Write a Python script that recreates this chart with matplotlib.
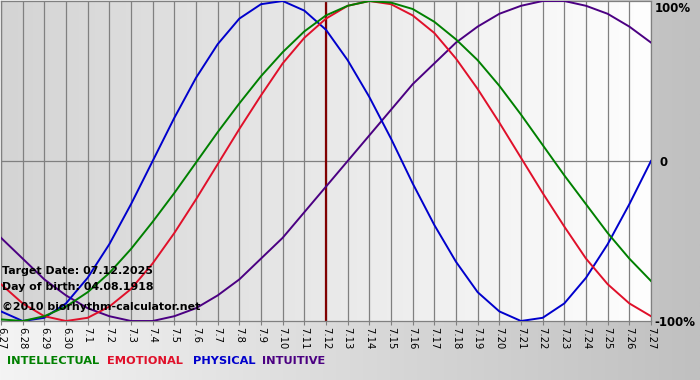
import numpy as np
import matplotlib
matplotlib.use("Agg")
import matplotlib.pyplot as plt

plt.rcParams['font.family'] = ['DejaVu Sans']

# day labels (month.day), 6.27 .. 7.27
day_labels = ['6.27', '6.28', '6.29', '6.30'] + ['7.%d' % d for d in range(1, 28)]
target_label = '7.12'

# values, one per day (-1 .. 1)
physical = [-0.94, -1.00, -0.98, -0.89, -0.73, -0.52, -0.27, 0.00, 0.27, 0.52,
            0.73, 0.89, 0.98, 1.00, 0.94, 0.82, 0.63, 0.40, 0.14, -0.14,
            -0.40, -0.63, -0.82, -0.94, -1.00, -0.98, -0.89, -0.73, -0.52, -0.27,
            0.00]
emotional = [-0.77, -0.89, -0.97, -1.00, -0.98, -0.91, -0.80, -0.64, -0.45, -0.24,
             -0.02, 0.20, 0.41, 0.61, 0.77, 0.89, 0.97, 1.00, 0.98, 0.91,
             0.80, 0.64, 0.45, 0.24, 0.02, -0.20, -0.41, -0.61, -0.77, -0.89,
             -0.97]
intellectual = [-0.99, -1.00, -0.97, -0.91, -0.82, -0.70, -0.55, -0.38, -0.20, -0.01,
                0.18, 0.36, 0.53, 0.68, 0.81, 0.91, 0.97, 1.00, 0.99, 0.95,
                0.87, 0.76, 0.63, 0.47, 0.29, 0.10, -0.09, -0.27, -0.45, -0.61,
                -0.75]
intuitive = [-0.48, -0.61, -0.74, -0.84, -0.92, -0.97, -1.00, -1.00, -0.97, -0.92,
             -0.84, -0.74, -0.61, -0.48, -0.32, -0.16, 0.00, 0.16, 0.32, 0.48,
             0.61, 0.74, 0.84, 0.92, 0.97, 1.00, 1.00, 0.97, 0.92, 0.84,
             0.74]

W, H = 700, 380
fig = plt.figure(figsize=(W / 100, H / 100), dpi=100)

# figure background: light on the left, grey on the right
bg = fig.add_axes([0, 0, 1, 1], zorder=-10)
grad = np.linspace(0, 1, 256).reshape(1, -1)
bg.imshow(grad, aspect='auto', extent=[0, 1, 0, 1],
          cmap=matplotlib.colors.LinearSegmentedColormap.from_list('g', ['#f4f4f4', '#c0c0c0']))
bg.axis('off')

# plot area
ax = fig.add_axes([1 / W, 59 / H, 650 / W, 320 / H])
x = np.arange(len(day_labels))
ax.set_xlim(x[0], x[-1])
ax.set_ylim(-1, 1)
ax.imshow(grad, aspect='auto', extent=[x[0], x[-1], -1, 1], zorder=0,
          cmap=matplotlib.colors.LinearSegmentedColormap.from_list('p', ['#d4d4d4', '#fefefe']))

for xi in x:
    ax.axvline(xi, color='#808080', lw=0.9, zorder=1)
ax.axhline(0, color='#808080', lw=0.9, zorder=1)

ti = day_labels.index(target_label)
ax.axvline(x[ti], color='#800000', lw=1.6, zorder=2)

ax.plot(x, intuitive, color='#4b0082', lw=1.4, zorder=3)
ax.plot(x, physical, color='#0000cc', lw=1.4, zorder=3)
ax.plot(x, emotional, color='#e0102a', lw=1.4, zorder=3)
ax.plot(x, intellectual, color='#008000', lw=1.4, zorder=3)

for s in ax.spines.values():
    s.set_color('#808080')
    s.set_linewidth(0.9)

ax.set_yticks([])
ax.set_xticks(x)
ax.set_xticklabels(day_labels, rotation=-90, fontsize=7.2, va='top', ha='center')
ax.tick_params(axis='x', length=3, color='#808080', pad=1.5)

# right-hand scale labels
fig.text(655 / W, 1 - 8 / H, '100%', fontsize=8.5, fontweight='bold', va='center')
fig.text(659 / W, 1 - 163 / H, '0', fontsize=8.5, fontweight='bold', va='center')
fig.text(654 / W, 1 - 322 / H, '-100%', fontsize=8.5, fontweight='bold', va='center')

# info text
fig.text(2 / W, 1 - 271 / H, 'Target Date: 07.12.2025', fontsize=7.9, fontweight='bold', va='center')
fig.text(2 / W, 1 - 287 / H, 'Day of birth: 04.08.1918', fontsize=7.9, fontweight='bold', va='center')
fig.text(2 / W, 1 - 307 / H, '\u00a92010 biorhythm-calculator.net', fontsize=7.9, fontweight='bold', va='center')

# legend
legend = [('INTELLECTUAL', '#008000', 7), ('EMOTIONAL', '#e0102a', 107),
          ('PHYSICAL', '#0000cc', 193), ('INTUITIVE', '#4b0082', 262)]
for name, col, px in legend:
    fig.text(px / W, 1 - 361 / H, name, color=col, fontsize=8.2, fontweight='bold', va='center')

fig.savefig('out.png', dpi=100)
